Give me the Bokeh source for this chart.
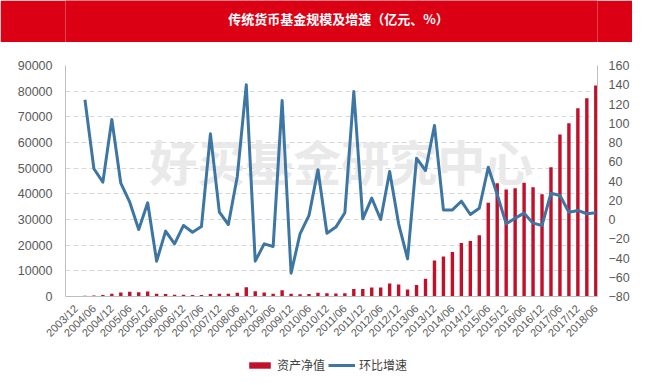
from bokeh.plotting import figure
from bokeh.models import Range1d, LinearAxis, FixedTicker, Legend, LegendItem
from bokeh.layouts import column
from bokeh.core.properties import value
from bokeh.embed import file_html
from bokeh.resources import INLINE

title_text = "传统货币基金规模及增速（亿元、%）"
watermark = "好买基金研究中心"
series_names = ["资产净值", "环比增速"]

# quarterly periods 2003/12 .. 2018/06
all_q = [f"{y}/{m:02d}" for y in range(2003, 2019) for m in (3, 6, 9, 12)]
periods = all_q[all_q.index("2003/12"): all_q.index("2018/06") + 1]

# asset net value (亿元), one per quarter
asset = [115, 258, 394, 547, 1115, 1536, 1813, 1625, 1905, 1081,
         950, 710, 666, 578, 536, 1012, 1089, 1033, 1495, 3588,
         2035, 1520, 1095, 2450, 1082, 921, 960, 1456, 1249, 1150,
         1230, 2875, 2887, 3530, 3500, 5070, 4700, 2700, 4500, 6900,
         14000, 15600, 17300, 20800, 21600, 23900, 36500, 44100, 41700, 42200,
         44300, 42600, 39800, 50400, 63100, 67500, 73300, 77200, 82200]

# quarter-on-quarter growth (%), from the second quarter on
growth = [124.4, 52.7, 38.8, 103.9, 37.7, 18.0, -10.4, 17.3, -43.3, -12.1,
          -25.3, -6.2, -13.2, -7.3, 89.0, 7.6, -5.2, 44.7, 139.9, -43.3,
          -25.3, -28.0, 123.6, -55.8, -14.9, 4.2, 51.6, -14.2, -7.9, 7.0,
          133.0, 0.7, 22.2, 0.0, 49.9, -4.5, -40.9, 63.7, 50.9, 97.7,
          10.0, 10.0, 19.0, 5.2, 11.7, 54.3, 26.0, -4.5, 1.4, 6.6,
          -3.8, -6.2, 27.3, 25.0, 7.6, 9.4, 6.0, 7.0]

tick_labels = ["2003/12", "2004/06", "2004/12", "2005/06", "2005/12", "2006/06",
               "2006/12", "2007/06", "2007/12", "2008/06", "2008/12", "2009/06",
               "2009/12", "2010/06", "2010/12", "2011/06", "2011/12", "2012/06",
               "2012/12", "2013/06", "2013/12", "2014/06", "2014/12", "2015/06",
               "2015/12", "2016/06", "2016/12", "2017/06", "2017/12", "2018/06"]

left_ticks = list(range(0, 90001, 10000))
right_ticks = list(range(-80, 161, 20))

x_idx = list(range(len(periods)))
line_x = x_idx[1:]

NUM_FONT = "Liberation Sans"
CJK_FONT = "Noto Sans CJK SC"
W = 632
BAR_COLOR = "#C0102A"
LINE_COLOR = "#3E76A3"

# ---- title bar ----
t = figure(width=W, height=42, x_range=Range1d(0, 1), y_range=Range1d(0, 42),
           toolbar_location=None, output_backend="svg", min_border=0,
           border_fill_color="#DC0014", background_fill_color="#DC0014",
           outline_line_color=None)
t.xaxis.visible = False
t.yaxis.visible = False
t.grid.visible = False
t.text(x=[0.513], y=[24], text=[title_text], text_font=value(CJK_FONT),
       text_font_size="13px", text_font_style="bold", text_color="white",
       text_align="center", text_baseline="middle")

# ---- main chart ----
p = figure(width=W, height=309, x_range=Range1d(-1.17, 58.19), y_range=Range1d(0, 90000),
           toolbar_location=None, output_backend="svg",
           min_border_left=65, min_border_right=29, min_border_top=23, min_border_bottom=55,
           outline_line_color=None, background_fill_color="white", border_fill_color="white")
p.extra_y_ranges = {"g": Range1d(-80, 160)}

p.text(x=[29.6], y=[53000], text=[watermark], text_font=value(CJK_FONT),
       text_font_size="48px", text_font_style="bold", text_color="#E9E9E9",
       text_align="center", text_baseline="middle")

bars = p.vbar(x=x_idx, top=asset, width=0.38, fill_color=BAR_COLOR, line_color=None)
ln = p.line(x=line_x, y=growth, y_range_name="g", line_color=LINE_COLOR,
            line_width=3, line_join="round")

p.xgrid.visible = False
p.ygrid.grid_line_color = "#D9D9D9"
p.ygrid.grid_line_dash = "5 3"
p.ygrid.grid_line_width = 1

xa = p.xaxis[0]
xa.ticker = FixedTicker(ticks=list(range(0, len(periods), 2)), minor_ticks=[])
xa.major_label_overrides = {i * 2: lbl for i, lbl in enumerate(tick_labels)}
xa.major_label_orientation = 0.785398
xa.axis_line_color = "#BFBFBF"
xa.major_tick_line_color = None
xa.minor_tick_line_color = None
xa.major_label_text_font = NUM_FONT
xa.major_label_text_font_size = "11px"
xa.major_label_text_color = "#595959"
xa.major_label_standoff = 4

ya = p.yaxis[0]
ya.ticker = FixedTicker(ticks=left_ticks, minor_ticks=[])
ya.axis_line_color = "#BFBFBF"
ya.major_tick_line_color = None
ya.minor_tick_line_color = None
ya.major_label_text_font = NUM_FONT
ya.major_label_text_font_size = "12.5px"
ya.major_label_text_color = "#595959"
ya.major_label_standoff = 7

ra = LinearAxis(y_range_name="g", ticker=FixedTicker(ticks=right_ticks, minor_ticks=[]))
ra.axis_line_color = "#BFBFBF"
ra.major_tick_line_color = None
ra.minor_tick_line_color = None
ra.major_label_text_font = NUM_FONT
ra.major_label_text_font_size = "12.5px"
ra.major_label_text_color = "#595959"
ra.major_label_standoff = 5
p.add_layout(ra, "right")

# ---- legend row (same series, ranges chosen so only the legend is visible) ----
lg = figure(width=W, height=30, x_range=Range1d(1000, 1100), y_range=Range1d(1e6, 2e6),
            toolbar_location=None, output_backend="svg", min_border=0,
            outline_line_color=None, background_fill_color="white", border_fill_color="white")
lg.xaxis.visible = False
lg.yaxis.visible = False
lg.grid.visible = False
lb = lg.vbar(x=x_idx, top=asset, width=0.38, fill_color=BAR_COLOR, line_color=None)
ll = lg.line(x=line_x, y=growth, line_color=LINE_COLOR, line_width=3)
legend = Legend(items=[LegendItem(label=series_names[0], renderers=[lb]),
                       LegendItem(label=series_names[1], renderers=[ll])],
                location=(181, 8), orientation="horizontal",
                background_fill_alpha=0, border_line_color=None,
                padding=0, margin=0, glyph_width=27, glyph_height=8,
                label_height=14, label_standoff=4, spacing=3,
                label_text_font=CJK_FONT, label_text_font_size="12px",
                label_text_color="#404040")
lg.add_layout(legend, "center")

layout = column(t, p, lg, spacing=0)
open("out.html", "w").write(file_html(layout, INLINE))
